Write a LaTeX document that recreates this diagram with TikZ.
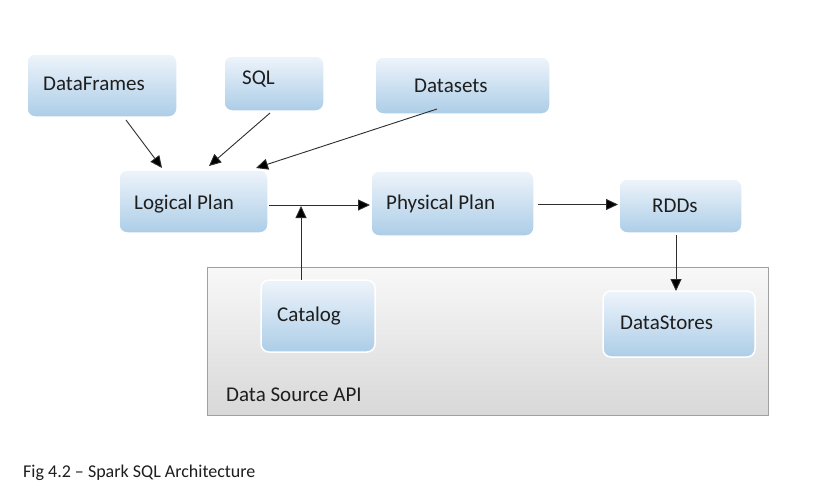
\documentclass[tikz,border=0pt]{standalone}
\usepackage{fontspec}
\setmainfont{Carlito}
\usetikzlibrary{arrows.meta}
\definecolor{boxtop}{RGB}{238,244,251}
\definecolor{boxbot}{RGB}{172,205,231}
\definecolor{areatop}{RGB}{248,248,248}
\definecolor{areabot}{RGB}{216,216,216}
\definecolor{areaedge}{RGB}{160,160,160}
\definecolor{ink}{RGB}{30,30,30}
\definecolor{wire}{RGB}{45,45,45}
\tikzset{
  box/.style={rectangle, rounded corners=8pt, top color=boxtop, bottom color=boxbot,
    draw=white, line width=1.5pt, inner sep=0pt},
  txt/.style={inner sep=0pt, anchor=base west, text=ink, font=\fontsize{21}{25}\selectfont},
  wirearrow/.style={draw=wire, line width=0.9pt, -{Triangle[length=12pt,width=11pt,fill=black]}},
}
\begin{document}
\begin{tikzpicture}[x=1pt,y=-1pt]
\useasboundingbox[fill=white] (0,0) rectangle (821,496);
% data source area
\node[rectangle, top color=areatop, bottom color=areabot, draw=areaedge, line width=0.8pt,
  minimum width=561pt, minimum height=148pt, inner sep=0pt] (area) at (487.5,341) {};
% boxes
\node[box, minimum width=150pt, minimum height=63pt] (DF) at (102,85.5) {};
\node[box, minimum width=100pt, minimum height=55pt] (SQL) at (274,83.5) {};
\node[box, minimum width=175pt, minimum height=57pt] (DS) at (462.5,85.5) {};
\node[box, minimum width=149pt, minimum height=63pt] (LP) at (193.5,201.5) {};
\node[box, minimum width=163pt, minimum height=65pt] (PP) at (452.5,203.5) {};
\node[box, minimum width=123pt, minimum height=54pt] (RDD) at (680.5,206) {};
\node[box, minimum width=114pt, minimum height=72pt] (CAT) at (318,316) {};
\node[box, minimum width=152pt, minimum height=66pt] (DST) at (679,324) {};
% texts
\node[txt] (tDF) at (43,90) {DataFrames};
\node[txt] (tSQL) at (242,84) {SQL};
\node[txt] (tDS) at (414,92) {Datasets};
\node[txt] (tLP) at (134,209) {Logical Plan};
\node[txt] (tPP) at (386,209) {Physical Plan};
\node[txt] (tRDD) at (652,212) {RDDs};
\node[txt] (tCAT) at (277,321) {Catalog};
\node[txt] (tDST) at (620,329) {DataStores};
\node[txt] (tAPI) at (226,401) {Data Source API};
\node[txt, font=\fontsize{18}{22}\selectfont] (cap) at (23,477) {Fig 4.2 – Spark SQL Architecture};
% connector end points
\coordinate (dfA) at (126,120);
\coordinate (dfB) at (162,168);
\coordinate (sqA) at (270,113);
\coordinate (sqB) at (209,166);
\coordinate (dsA) at (437,109);
\coordinate (dsB) at (256,168);
\coordinate (lpA) at (269,205);
\coordinate (ppB) at (370,205);
\coordinate (ppA) at (538,204.5);
\coordinate (rdB) at (618,204.5);
\coordinate (rdA) at (676,235);
\coordinate (dstB) at (676,291);
\coordinate (catA) at (301,280);
\coordinate (join) at (301,206);
% connectors
\draw[wirearrow] (dfA) -- (dfB);
\draw[wirearrow] (sqA) -- (sqB);
\draw[wirearrow] (dsA) -- (dsB);
\draw[wirearrow] (lpA) -- (ppB);
\draw[wirearrow] (ppA) -- (rdB);
\draw[wirearrow] (rdA) -- (dstB);
\draw[wirearrow] (catA) -- (join);
\end{tikzpicture}
\end{document}
